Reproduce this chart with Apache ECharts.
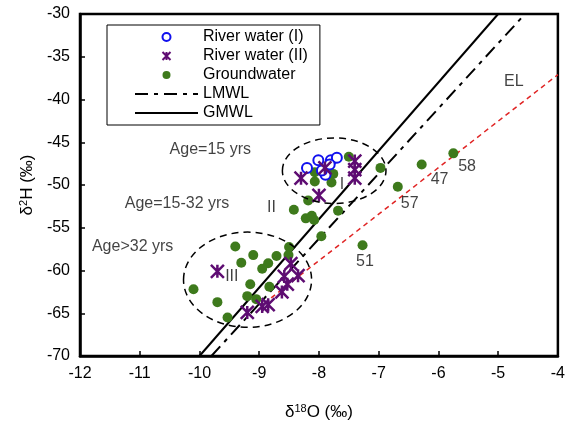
<!DOCTYPE html>
<html>
<head>
<meta charset="utf-8">
<script src="https://cdn.jsdelivr.net/npm/echarts@6/dist/echarts.min.js"></script>
<style>
	html, body { margin: 0; padding: 0; background: #fff; }
	#chart { width: 568px; height: 426px; }
</style>
</head>
<body>
<div id="chart"></div>
<script>
// 数据 (δ18O, δ2H)
var riverI = [[-8.2, -48.0], [-8.01, -47.1], [-7.8, -47.1], [-7.7, -46.8], [-7.82, -47.6], [-7.89, -48.8], [-7.95, -48.3]];
var riverII = [[-8.3, -49.2], [-7.9, -48.0], [-8.0, -51.2], [-7.4, -47.2], [-7.4, -48.2], [-7.4, -49.2],
	[-9.7, -60.1], [-8.47, -59.2], [-8.58, -60.7], [-8.35, -60.6], [-8.53, -61.6], [-8.62, -62.5],
	[-8.95, -64.2], [-8.85, -64.0], [-9.2, -64.9]];
var groundwater = [[-7.5, -46.7], [-8.07, -48.5], [-7.76, -48.7], [-8.07, -49.6], [-7.79, -49.7], [-6.97, -48.0],
	[-8.18, -51.8], [-8.42, -52.9], [-8.22, -53.9], [-8.12, -53.6], [-8.08, -54.1], [-7.68, -53.0],
	[-7.96, -56.0], [-6.28, -47.6], [-6.68, -50.2], [-5.75, -46.3], [-7.27, -57.05],
	[-8.5, -57.25], [-9.4, -57.2], [-9.1, -58.2], [-9.3, -59.1], [-8.71, -58.3], [-8.85, -59.15],
	[-8.95, -59.8], [-8.51, -58.2], [-10.1, -62.2], [-9.15, -61.6], [-8.83, -61.9], [-9.2, -63.0],
	[-9.05, -63.35], [-9.7, -63.7], [-9.53, -65.5]];
var lmwl = [[-9.8, -70], [-4.55, -30]];
var gmwl = [[-10, -70], [-5, -30]];
var el = [[-8.8, -63.2], [-4, -37.1]];
// 注释文字
var notes = [
	{name: 'Age=15 yrs', value: [-10.5, -45.9]},
	{name: 'Age=15-32 yrs', value: [-11.25, -52.2]},
	{name: 'Age>32 yrs', value: [-11.8, -57.2]},
	{name: 'I', value: [-7.65, -50.0]},
	{name: 'II', value: [-8.87, -52.6]},
	{name: 'III', value: [-9.57, -60.7]},
	{name: 'EL', value: [-4.9, -37.9]},
	{name: '58', value: [-5.67, -47.9]},
	{name: '47', value: [-6.13, -49.4]},
	{name: '57', value: [-6.63, -52.2]},
	{name: '51', value: [-7.38, -59.0]}
];
// 椭圆: 中心, 半径 (数据单位)
var ellipses = [
	{c: [-7.745, -48.33], r: [0.867, 3.83]},
	{c: [-9.195, -61.08], r: [1.072, 5.57]}
];

var FONT = 'Liberation Sans, Arial, sans-serif';
var xPath = 'path://M0,0L10,10M10,0L0,10M5,0L5,10';

var chart = echarts.init(document.getElementById('chart'));
var option = {
	animation: false,
	textStyle: {fontFamily: FONT},
	grid: {left: 80, right: 8, top: 14, bottom: 69, show: true, borderColor: '#000', borderWidth: 2.5},
	legend: {
		orient: 'vertical',
		left: 107,
		top: 25,
		padding: [3, 12, 3, 27],
		borderColor: '#000',
		borderWidth: 1,
		itemWidth: 63,
		itemHeight: 8,
		itemGap: 1,
		textStyle: {fontSize: 16, color: '#000', lineHeight: 18, fontFamily: FONT},
		data: ['River water (I)', 'River water (II)', 'Groundwater',
			{name: 'LMWL', itemStyle: {opacity: 0}},
			{name: 'GMWL', itemStyle: {opacity: 0}}]
	},
	xAxis: {
		type: 'value', min: -12, max: -4, interval: 1,
		name: '{a|δ}{s|18}{a|O (‰)}',
		nameLocation: 'middle', nameGap: 47,
		nameTextStyle: {rich: {
			a: {fontSize: 17, color: '#000', fontFamily: FONT},
			s: {fontSize: 11, color: '#000', verticalAlign: 'top', padding: [0, 0, 8, 0], fontFamily: FONT}
		}},
		axisLine: {lineStyle: {color: '#000', width: 2.5}},
		axisTick: {inside: true, length: 5, lineStyle: {color: '#000', width: 1.5}},
		axisLabel: {fontSize: 16, color: '#000', margin: 10},
		splitLine: {show: false}
	},
	yAxis: {
		type: 'value', min: -70, max: -30, interval: 5,
		name: '{a|δ}{s|2}{a|H (‰)}',
		nameLocation: 'middle', nameGap: 38,
		nameTextStyle: {rich: {
			a: {fontSize: 17, color: '#000', fontFamily: FONT},
			s: {fontSize: 11, color: '#000', verticalAlign: 'top', padding: [0, 0, 8, 0], fontFamily: FONT}
		}},
		axisLine: {lineStyle: {color: '#000', width: 2.5}},
		axisTick: {inside: true, length: 5, lineStyle: {color: '#000', width: 1.5}},
		axisLabel: {fontSize: 16, color: '#000', margin: 10},
		splitLine: {show: false}
	},
	series: [{
		name: 'EL', type: 'line', data: el, symbol: 'none', z: 1,
		lineStyle: {color: '#e02424', width: 1.5, type: [5, 4]}
	}, {
		name: 'LMWL', type: 'line', data: lmwl, symbol: 'none', z: 1,
		itemStyle: {color: '#000'},
		lineStyle: {color: '#000', width: 2, type: [13, 6, 4, 6]}
	}, {
		name: 'GMWL', type: 'line', data: gmwl, symbol: 'none', z: 1,
		itemStyle: {color: '#000'},
		lineStyle: {color: '#000', width: 2}
	}, {
		name: 'Groundwater', type: 'scatter', data: groundwater, symbol: 'circle', symbolSize: 10, z: 3,
		itemStyle: {color: '#3e7a1c', opacity: 1}
	}, {
		name: 'River water (I)', type: 'scatter', data: riverI, symbol: 'circle', symbolSize: 10, z: 4,
		itemStyle: {color: '#fff', borderColor: '#1010ee', borderWidth: 2, opacity: 1}
	}, {
		name: 'River water (II)', type: 'scatter', data: riverII, symbol: xPath, symbolSize: 13, z: 5,
		itemStyle: {color: 'rgba(0,0,0,0)', borderColor: '#5e0c72', borderWidth: 2.5, opacity: 1}
	}, {
		name: 'notes', type: 'scatter', data: notes, symbolSize: 0, z: 6, silent: true,
		label: {show: true, position: 'right', distance: 0, formatter: '{b}', fontSize: 16, color: '#111', fontFamily: FONT}
	}]
};
chart.setOption(option);

// 画椭圆
var shapes = ellipses.map(function(e) {
	var c = chart.convertToPixel({gridIndex: 0}, e.c);
	var p = chart.convertToPixel({gridIndex: 0}, [e.c[0] + e.r[0], e.c[1] + e.r[1]]);
	return {
		type: 'ellipse',
		shape: {cx: c[0], cy: c[1], rx: Math.abs(p[0] - c[0]), ry: Math.abs(p[1] - c[1])},
		style: {fill: null, stroke: '#000', lineWidth: 1.5, lineDash: [7, 5]},
		z: 10
	};
});
chart.setOption({graphic: shapes});
</script>
</body>
</html>
